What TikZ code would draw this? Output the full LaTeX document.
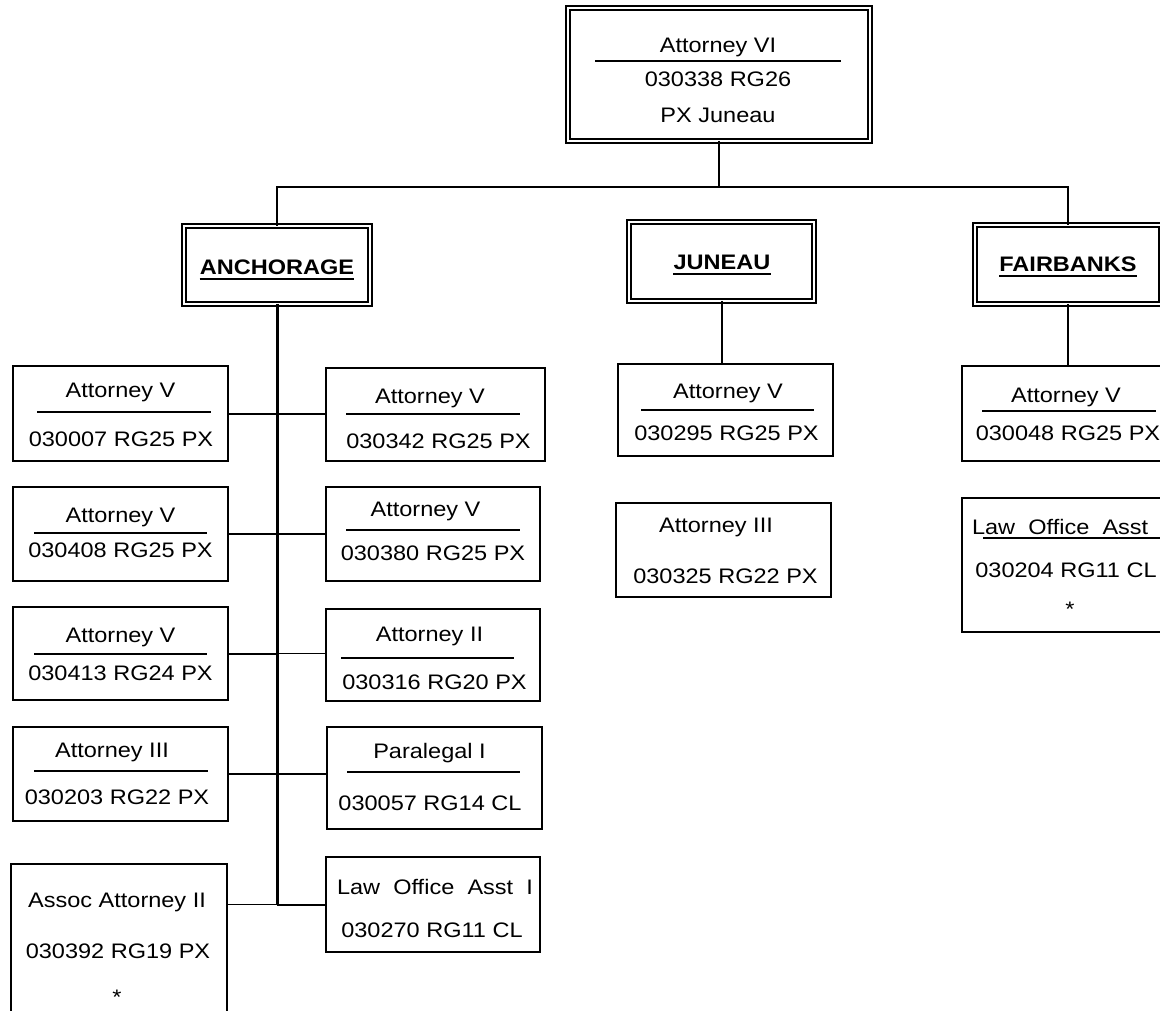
\documentclass[tikz,border=0pt]{standalone}
\usepackage{fontspec}
\setmainfont{Liberation Sans}[FakeStretch=1.12]
\usetikzlibrary{calc}

\begin{document}
\begin{tikzpicture}[x=1pt,y=-1pt,
  post/.style={draw,line width=1.6pt,minimum width=215.5pt,inner sep=0pt,outer sep=0pt},
  office/.style={draw,double,double distance=2.5pt,line width=1.6pt,inner sep=0pt,outer sep=0pt},
  lbl/.style={anchor=base,inner sep=0pt,font=\fontsize{21}{25}\selectfont},
  rulebar/.style={line width=1.4pt},
  link/.style={line width=1.1pt},
  heavylink/.style={line width=2pt},
  spine/.style={line width=3pt}]
  \useasboundingbox (0,0) rectangle (1160,1011);
  \clip (0,0) rectangle (1160,1011);

  % top post and the three offices
  \node[office,minimum width=302pt,minimum height=133pt] (root) at (719,74.5) {};
  \node[lbl] (rootA) at (718,53) {Attorney VI};
  \node[lbl] (rootB) at (718,87) {030338 RG26};
  \node[lbl] (rootC) at (718,123) {PX Juneau};
  \draw[rulebar] (595,61) -- (841,61);

  \node[office,minimum width=186pt,minimum height=78pt] (anc) at (277,265) {};
  \node[lbl,font=\fontsize{21}{25}\selectfont\bfseries] (ancT) at (277,275) {ANCHORAGE};
  \node[office,minimum width=185pt,minimum height=79pt] (jun) at (721.5,261.5) {};
  \node[lbl,font=\fontsize{21}{25}\selectfont\bfseries] (junT) at (722,270) {JUNEAU};
  \node[office,minimum width=186pt,minimum height=79pt] (fai) at (1068,264.5) {};
  \node[lbl,font=\fontsize{21}{25}\selectfont\bfseries] (faiT) at (1068,272) {FAIRBANKS};
  \foreach \t in {ancT,junT,faiT}
    \draw[rulebar] ($(\t.base west)+(0,4)$) -- ($(\t.base east)+(0,4)$);

  \coordinate (busL) at (277,187);
  \coordinate (busR) at (1068,187);
  \draw[link] (root.south) -- (root.south |- busL);
  \draw[link] (anc.north) -- (busL) -- (busR) -- (fai.north);

  % Anchorage, left column
  \node[post,minimum height=95.5pt] (l1) at (120.5,413.5) {};
  \node[lbl] (l1a) at (120.5,397) {Attorney V};
  \node[lbl] (l1b) at (121,446) {030007 RG25 PX};
  \draw[rulebar] (37,412) -- (211,412);
  \node[post,minimum height=94.5pt] (l2) at (120.5,534) {};
  \node[lbl] (l2a) at (120.5,522) {Attorney V};
  \node[lbl] (l2b) at (120.5,557) {030408 RG25 PX};
  \draw[rulebar] (34,533) -- (207,533);
  \node[post,minimum height=93.5pt] (l3) at (120.5,653.5) {};
  \node[lbl] (l3a) at (120.5,642) {Attorney V};
  \node[lbl] (l3b) at (120.5,680) {030413 RG24 PX};
  \draw[rulebar] (34,654) -- (207,654);
  \node[post,minimum height=94.5pt] (l4) at (120.5,774) {};
  \node[lbl] (l4a) at (112,757) {Attorney III};
  \node[lbl] (l4b) at (117,804) {030203 RG22 PX};
  \draw[rulebar] (34,771) -- (208,771);
  \node[post,minimum height=176pt] (l5) at (119,952) {};
  \node[lbl] (l5a) at (117,907) {Assoc Attorney II};
  \node[lbl] (l5b) at (118,958) {030392 RG19 PX};
  \node[lbl] (l5c) at (117,1004) {*};

  % Anchorage, right column
  \node[post,minimum width=219.5pt,minimum height=93.5pt] (r1) at (435.5,414.5) {};
  \node[lbl] (r1a) at (430,403) {Attorney V};
  \node[lbl] (r1b) at (438.5,448) {030342 RG25 PX};
  \draw[rulebar] (346,414) -- (520,414);
  \node[post,minimum width=214.5pt,minimum height=94.5pt] (r2) at (433,534) {};
  \node[lbl] (r2a) at (425.5,516) {Attorney V};
  \node[lbl] (r2b) at (433,560) {030380 RG25 PX};
  \draw[rulebar] (346,530) -- (520,530);
  \node[post,minimum width=214.5pt,minimum height=92.5pt] (r3) at (433,655) {};
  \node[lbl] (r3a) at (429.5,641) {Attorney II};
  \node[lbl] (r3b) at (434.5,689) {030316 RG20 PX};
  \draw[rulebar] (341,658) -- (514,658);
  \node[post,minimum height=102.5pt] (r4) at (434.5,778) {};
  \node[lbl] (r4a) at (429.5,758) {Paralegal I};
  \node[lbl] (r4b) at (430,810) {030057 RG14 CL};
  \draw[rulebar] (347,772) -- (520,772);
  \node[post,minimum width=214.5pt,minimum height=95.5pt] (r5) at (433,904.5) {};
  \node[lbl] (r5a) at (435,894) {\makebox[196pt][s]{Law Office Asst I}};
  \node[lbl] (r5b) at (432,937) {030270 RG11 CL};

  \draw[spine] (anc.south) -- (anc.south |- r5.west);
  \draw[heavylink] (l1.east) -- (l1.east -| anc.south) -- (l1.east -| r1.west);
  \draw[heavylink] (l2.east) -- (l2.east -| anc.south) -- (l2.east -| r2.west);
  \draw[heavylink] (l3.east) -- (l3.east -| anc.south);
  \draw[link] (l3.east -| anc.south) -- (l3.east -| r3.west);
  \draw[heavylink] (l4.east) -- (l4.east -| anc.south);
  \draw[link] (l4.east -| anc.south) -- (l4.east -| r4.west);
  \draw[link] (l5.east |- r5.west) -- (anc.south |- r5.west);
  \draw[heavylink] (anc.south |- r5.west) -- (r5.west);

  % Juneau
  \node[post,minimum height=92.5pt] (j1) at (725.5,410) {};
  \node[lbl] (j1a) at (728,398) {Attorney V};
  \node[lbl] (j1b) at (726.5,440) {030295 RG25 PX};
  \draw[rulebar] (641,410) -- (814,410);
  \node[post,minimum height=94.5pt] (j2) at (723.5,550) {};
  \node[lbl] (j2a) at (716,532) {Attorney III};
  \node[lbl] (j2b) at (725.5,583) {030325 RG22 PX};
  \draw[heavylink] (jun.south) -- (jun.south |- j1.north);

  % Fairbanks
  \node[post,minimum width=214.5pt,minimum height=95.5pt] (f1) at (1069,413.5) {};
  \node[lbl] (f1a) at (1066,402) {Attorney V};
  \node[lbl] (f1b) at (1068,440) {030048 RG25 PX};
  \draw[rulebar] (982,411) -- (1156,411);
  \node[post,minimum width=214.5pt,minimum height=134.5pt] (f2) at (1069,565) {};
  \node[lbl] (f2a) at (1070,534) {\makebox[196pt][s]{Law Office Asst I}};
  \node[lbl] (f2b) at (1066,577) {030204 RG11 CL};
  \node[lbl] (f2c) at (1070,616) {*};
  \draw[rulebar] (983,538) -- (1177,538);
  \draw[heavylink] (fai.south) -- (fai.south |- f1.north);
\end{tikzpicture}
\end{document}
